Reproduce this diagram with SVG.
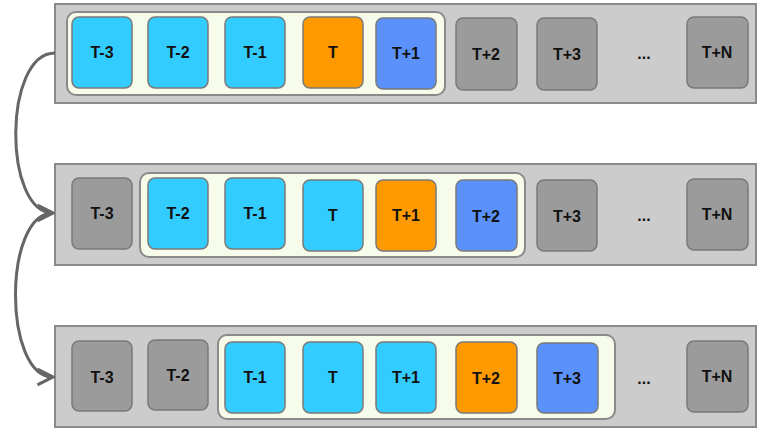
<svg xmlns="http://www.w3.org/2000/svg" width="758" height="429" viewBox="0 0 758 429">
  <style>
    .strip { fill: #cccccc; stroke: #8a8a8a; stroke-width: 2; }
    .win { fill: #f6fbea; stroke: #8a8a8a; stroke-width: 2; }
    .box { stroke: #7a7a7a; stroke-width: 1.5; }
    .past { fill: #33ccff; }
    .now { fill: #ff9900; }
    .next { fill: #5b91fa; }
    .idle { fill: #9b9b9b; }
    text { font-family: "Liberation Sans", Arial, sans-serif; font-weight: bold; font-size: 16px; fill: #111; text-anchor: middle; dominant-baseline: central; }
    .link { fill: none; stroke: #666; stroke-width: 3; }
  </style>
  <defs>
    <marker id="head" viewBox="0 0 10 10" refX="9" refY="5" markerWidth="6.5" markerHeight="6.5" orient="auto" markerUnits="strokeWidth">
      <path d="M1,1 L9,5 L1,9" fill="none" stroke="#666" stroke-width="1.6"/>
    </marker>
  </defs>

  <!-- row 1: window centred on T -->
  <g id="row1">
    <rect class="strip" x="55" y="4" width="701" height="99"/>
    <rect class="win" x="67" y="12" width="378" height="83" rx="9"/>
    <g id="r1-t-3"><rect class="box past" x="72" y="17" width="60" height="71" rx="7"/><text x="102" y="52">T-3</text></g>
    <g id="r1-t-2"><rect class="box past" x="148" y="17" width="60" height="71" rx="7"/><text x="178" y="52">T-2</text></g>
    <g id="r1-t-1"><rect class="box past" x="225" y="17" width="60" height="71" rx="7"/><text x="255" y="52">T-1</text></g>
    <g id="r1-t"><rect class="box now" x="303" y="17" width="60" height="71" rx="7"/><text x="333" y="52">T</text></g>
    <g id="r1-t+1"><rect class="box next" x="376" y="18" width="60" height="71" rx="7"/><text x="406" y="53">T+1</text></g>
    <g id="r1-t+2"><rect class="box idle" x="456" y="18" width="61" height="72" rx="7"/><text x="486" y="54">T+2</text></g>
    <g id="r1-t+3"><rect class="box idle" x="537" y="18" width="60" height="72" rx="7"/><text x="567" y="54">T+3</text></g>
    <g id="r1-dots"><text x="644" y="53">...</text></g>
    <g id="r1-t+n"><rect class="box idle" x="687" y="17" width="61" height="71" rx="7"/><text x="717" y="52">T+N</text></g>
  </g>

  <!-- row 2: window shifted by one step -->
  <g id="row2">
    <rect class="strip" x="55" y="164" width="701" height="101"/>
    <rect class="win" x="140" y="173" width="385" height="84" rx="9"/>
    <g id="r2-t-3"><rect class="box idle" x="72" y="178" width="60" height="71" rx="7"/><text x="102" y="213">T-3</text></g>
    <g id="r2-t-2"><rect class="box past" x="148" y="178" width="60" height="71" rx="7"/><text x="178" y="213">T-2</text></g>
    <g id="r2-t-1"><rect class="box past" x="225" y="178" width="60" height="71" rx="7"/><text x="255" y="213">T-1</text></g>
    <g id="r2-t"><rect class="box past" x="303" y="180" width="60" height="71" rx="7"/><text x="333" y="215">T</text></g>
    <g id="r2-t+1"><rect class="box now" x="376" y="180" width="60" height="71" rx="7"/><text x="406" y="215">T+1</text></g>
    <g id="r2-t+2"><rect class="box next" x="456" y="180" width="61" height="71" rx="7"/><text x="486" y="216">T+2</text></g>
    <g id="r2-t+3"><rect class="box idle" x="537" y="180" width="60" height="71" rx="7"/><text x="567" y="216">T+3</text></g>
    <g id="r2-dots"><text x="644" y="215">...</text></g>
    <g id="r2-t+n"><rect class="box idle" x="687" y="179" width="61" height="71" rx="7"/><text x="717" y="214">T+N</text></g>
  </g>

  <!-- row 3: window shifted by two steps -->
  <g id="row3">
    <rect class="strip" x="55" y="326" width="701" height="101"/>
    <rect class="win" x="218" y="335" width="397" height="84" rx="9"/>
    <g id="r3-t-3"><rect class="box idle" x="72" y="341" width="60" height="70" rx="7"/><text x="102" y="377">T-3</text></g>
    <g id="r3-t-2"><rect class="box idle" x="148" y="340" width="60" height="70" rx="7"/><text x="178" y="375">T-2</text></g>
    <g id="r3-t-1"><rect class="box past" x="225" y="342" width="60" height="71" rx="7"/><text x="255" y="377">T-1</text></g>
    <g id="r3-t"><rect class="box past" x="303" y="342" width="60" height="71" rx="7"/><text x="333" y="377">T</text></g>
    <g id="r3-t+1"><rect class="box past" x="376" y="342" width="60" height="71" rx="7"/><text x="406" y="377">T+1</text></g>
    <g id="r3-t+2"><rect class="box now" x="456" y="342" width="61" height="71" rx="7"/><text x="486" y="378">T+2</text></g>
    <g id="r3-t+3"><rect class="box next" x="537" y="343" width="61" height="70" rx="7"/><text x="567" y="378">T+3</text></g>
    <g id="r3-dots"><text x="644" y="378">...</text></g>
    <g id="r3-t+n"><rect class="box idle" x="687" y="341" width="61" height="71" rx="7"/><text x="717" y="376">T+N</text></g>
  </g>

  <!-- step arrows between rows -->
  <g id="connectors">
    <path class="link" d="M55,53 C3,53 3,213 53,213" marker-end="url(#head)"/>
    <path class="link" d="M53,213 C3,213 3,377 53,377" marker-end="url(#head)"/>
  </g>
</svg>
